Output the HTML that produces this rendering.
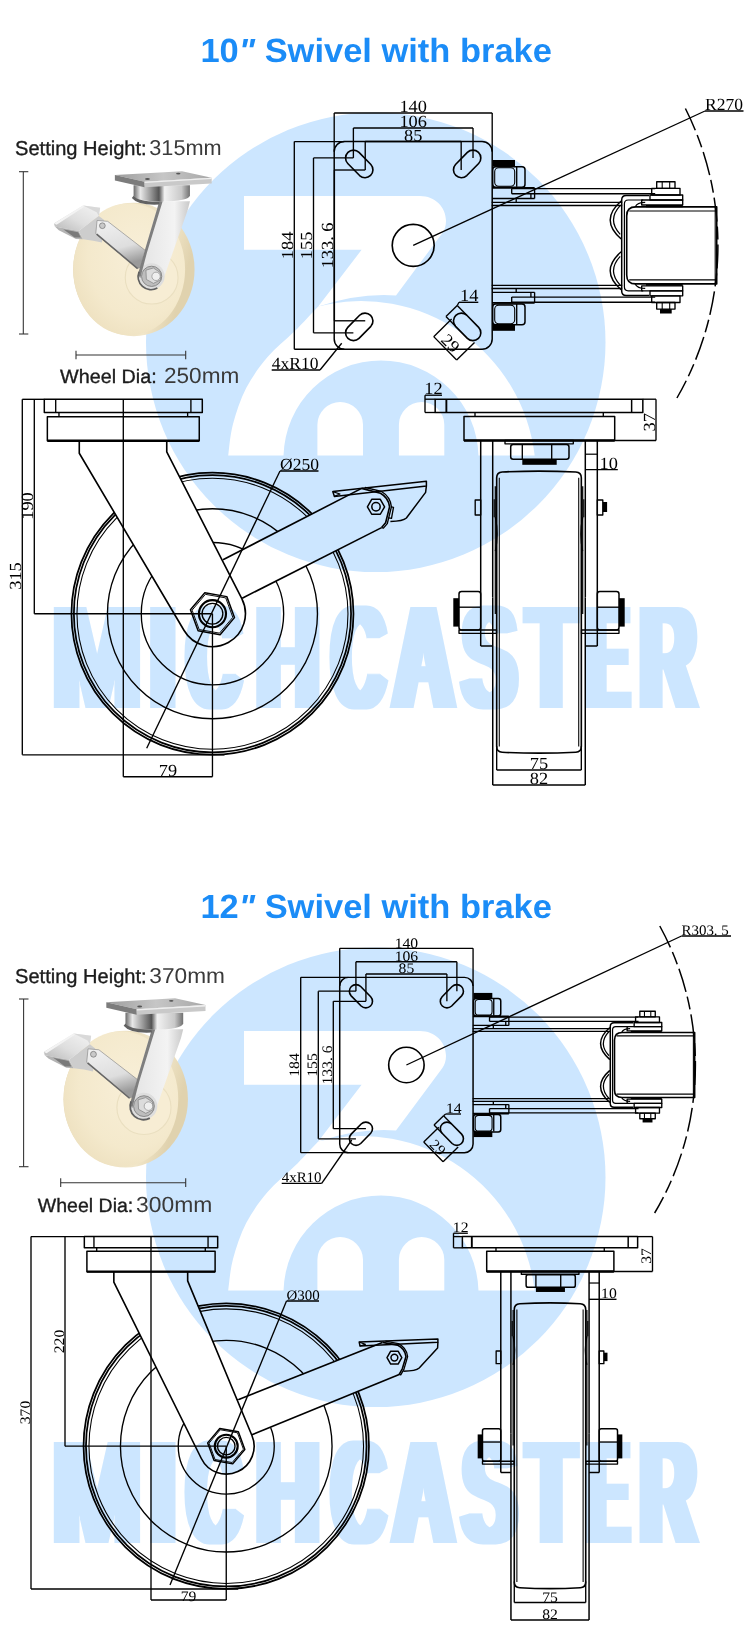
<!DOCTYPE html><html><head><meta charset="utf-8"><title>Swivel caster drawings</title>
<style>html,body{margin:0;padding:0;background:#fff}svg{display:block;will-change:transform;transform:translateZ(0)}</style></head><body>
<svg width="750" height="1640" viewBox="0 0 750 1640" text-rendering="geometricPrecision">
<defs><filter id="fat" x="-5%" y="-5%" width="110%" height="110%"><feMorphology operator="dilate" radius="6 0.3"/></filter></defs>
<rect width="750" height="1640" fill="#fff"/>
<circle cx="375.75" cy="342.3" r="229.75" fill="#cce6ff"/>
<path d="M244,196 H420 C435,196 446,207 446,221 C446,226 444.5,230 442.4,233 L396,295.4 Q358.9,292.7 318.2,306.4 L361.6,249.8 H244 Z" fill="#fff"/>
<path d="M228.2,455.6 C229,450.33 230,435.27 233,424 C236,412.73 240.4,399.2 246.2,388 C252,376.8 259.8,366.2 267.8,356.8 C275.8,347.4 285.8,340 294.2,331.6 C302.6,323.2 314.2,310.6 318.2,306.4 A174.9,174.9 0 0 1 534.7,455.6 H478.47 A97.5,97.5 0 0 0 283.53,455.6 Z" fill="#fff"/>
<path d="M317.4,455.6 V424.8 A22.80,22.80 0 0 1 363,424.8 V455.6 Z" fill="#fff"/>
<path d="M398.9,455.6 V424.7 A22.70,22.70 0 0 1 444.3,424.7 V455.6 Z" fill="#fff"/>
<text fill="#cce6ff" font-family="Liberation Sans, sans-serif" font-weight="bold" font-size="100" filter="url(#fat)" transform="translate(0 707.6) scale(1 1.4695)"><tspan x="52.79" textLength="88.42" lengthAdjust="spacingAndGlyphs">M</tspan><tspan x="150.01" textLength="25.66" lengthAdjust="spacingAndGlyphs">I</tspan><tspan x="187.42" textLength="52.56" lengthAdjust="spacingAndGlyphs">C</tspan><tspan x="256.38" textLength="62.76" lengthAdjust="spacingAndGlyphs">H</tspan><tspan x="332.55" textLength="51.9" lengthAdjust="spacingAndGlyphs">C</tspan><tspan x="393.52" textLength="59.95" lengthAdjust="spacingAndGlyphs">A</tspan><tspan x="462.68" textLength="53.34" lengthAdjust="spacingAndGlyphs">S</tspan><tspan x="527.85" textLength="46.98" lengthAdjust="spacingAndGlyphs">T</tspan><tspan x="587.99" textLength="39.95" lengthAdjust="spacingAndGlyphs">E</tspan><tspan x="640.6" textLength="55.02" lengthAdjust="spacingAndGlyphs">R</tspan></text>
<circle cx="375.75" cy="1177.3" r="229.75" fill="#cce6ff"/>
<path d="M244,1031 H420 C435,1031 446,1042 446,1056 C446,1061 444.5,1065 442.4,1068 L396,1130.4 Q358.9,1127.7 318.2,1141.4 L361.6,1084.8 H244 Z" fill="#fff"/>
<path d="M228.2,1290.6 C229,1285.33 230,1270.27 233,1259 C236,1247.73 240.4,1234.2 246.2,1223 C252,1211.8 259.8,1201.2 267.8,1191.8 C275.8,1182.4 285.8,1175 294.2,1166.6 C302.6,1158.2 314.2,1145.6 318.2,1141.4 A174.9,174.9 0 0 1 534.7,1290.6 H478.47 A97.5,97.5 0 0 0 283.53,1290.6 Z" fill="#fff"/>
<path d="M317.4,1290.6 V1259.8 A22.80,22.80 0 0 1 363,1259.8 V1290.6 Z" fill="#fff"/>
<path d="M398.9,1290.6 V1259.7 A22.70,22.70 0 0 1 444.3,1259.7 V1290.6 Z" fill="#fff"/>
<text fill="#cce6ff" font-family="Liberation Sans, sans-serif" font-weight="bold" font-size="100" filter="url(#fat)" transform="translate(0 1542.6) scale(1 1.4695)"><tspan x="52.79" textLength="88.42" lengthAdjust="spacingAndGlyphs">M</tspan><tspan x="150.01" textLength="25.66" lengthAdjust="spacingAndGlyphs">I</tspan><tspan x="187.42" textLength="52.56" lengthAdjust="spacingAndGlyphs">C</tspan><tspan x="256.38" textLength="62.76" lengthAdjust="spacingAndGlyphs">H</tspan><tspan x="332.55" textLength="51.9" lengthAdjust="spacingAndGlyphs">C</tspan><tspan x="393.52" textLength="59.95" lengthAdjust="spacingAndGlyphs">A</tspan><tspan x="462.68" textLength="53.34" lengthAdjust="spacingAndGlyphs">S</tspan><tspan x="527.85" textLength="46.98" lengthAdjust="spacingAndGlyphs">T</tspan><tspan x="587.99" textLength="39.95" lengthAdjust="spacingAndGlyphs">E</tspan><tspan x="640.6" textLength="55.02" lengthAdjust="spacingAndGlyphs">R</tspan></text>
<text x="200.4" y="61.6" font-family="Liberation Sans, sans-serif" font-size="33.5" font-weight="bold" fill="#1b8cf7" text-anchor="start" textLength="351.5" lengthAdjust="spacingAndGlyphs">10<tspan font-style="italic">&quot;</tspan> Swivel with brake</text>
<text x="200.4" y="917.7" font-family="Liberation Sans, sans-serif" font-size="33.5" font-weight="bold" fill="#1b8cf7" text-anchor="start" textLength="351.5" lengthAdjust="spacingAndGlyphs">12<tspan font-style="italic">&quot;</tspan> Swivel with brake</text>
<text x="15" y="155" font-family="Liberation Sans, sans-serif" font-size="20" font-weight="normal" fill="#1c1c1c" text-anchor="start" textLength="131.7" lengthAdjust="spacingAndGlyphs" stroke="#1c1c1c" stroke-width="0.35">Setting Height:</text>
<text x="149.3" y="155" font-family="Liberation Sans, sans-serif" font-size="21.6" font-weight="normal" fill="#3a3a3a" text-anchor="start" textLength="72.4" lengthAdjust="spacingAndGlyphs">315mm</text>
<text x="60" y="383.4" font-family="Liberation Sans, sans-serif" font-size="19.4" font-weight="normal" fill="#1c1c1c" text-anchor="start" textLength="96.7" lengthAdjust="spacingAndGlyphs" stroke="#1c1c1c" stroke-width="0.35">Wheel Dia:</text>
<text x="164" y="383.4" font-family="Liberation Sans, sans-serif" font-size="22" font-weight="normal" fill="#3a3a3a" text-anchor="start" textLength="75.3" lengthAdjust="spacingAndGlyphs">250mm</text>
<line x1="23.3" y1="171.7" x2="23.3" y2="334" stroke="#333" stroke-width="1.08" />
<line x1="19" y1="171.7" x2="28.3" y2="171.7" stroke="#333" stroke-width="1.08" />
<line x1="19" y1="334" x2="28.3" y2="334" stroke="#333" stroke-width="1.08" />
<line x1="76" y1="355" x2="185.7" y2="355" stroke="#333" stroke-width="1.08" />
<line x1="76" y1="350.7" x2="76" y2="359.3" stroke="#333" stroke-width="1.08" />
<line x1="185.7" y1="350.7" x2="185.7" y2="359.3" stroke="#333" stroke-width="1.08" />
<text x="15" y="982.7" font-family="Liberation Sans, sans-serif" font-size="20" font-weight="normal" fill="#1c1c1c" text-anchor="start" textLength="131.7" lengthAdjust="spacingAndGlyphs" stroke="#1c1c1c" stroke-width="0.35">Setting Height:</text>
<text x="149.3" y="982.7" font-family="Liberation Sans, sans-serif" font-size="21.6" font-weight="normal" fill="#3a3a3a" text-anchor="start" textLength="75.7" lengthAdjust="spacingAndGlyphs">370mm</text>
<text x="37.7" y="1211.7" font-family="Liberation Sans, sans-serif" font-size="19.4" font-weight="normal" fill="#1c1c1c" text-anchor="start" textLength="95.6" lengthAdjust="spacingAndGlyphs" stroke="#1c1c1c" stroke-width="0.35">Wheel Dia:</text>
<text x="136" y="1211.7" font-family="Liberation Sans, sans-serif" font-size="22" font-weight="normal" fill="#3a3a3a" text-anchor="start" textLength="76.3" lengthAdjust="spacingAndGlyphs">300mm</text>
<line x1="23.6" y1="999" x2="23.6" y2="1166.7" stroke="#333" stroke-width="1.08" />
<line x1="19" y1="999" x2="28.5" y2="999" stroke="#333" stroke-width="1.08" />
<line x1="19" y1="1166.7" x2="28.5" y2="1166.7" stroke="#333" stroke-width="1.08" />
<line x1="60.7" y1="1182.7" x2="185.7" y2="1182.7" stroke="#333" stroke-width="1.08" />
<line x1="60.7" y1="1178.3" x2="60.7" y2="1187" stroke="#333" stroke-width="1.08" />
<line x1="185.7" y1="1178.3" x2="185.7" y2="1187" stroke="#333" stroke-width="1.08" />
<defs>
<radialGradient id="gFace" cx="0.6" cy="0.4" r="0.78"><stop offset="0" stop-color="#f8efd8"/><stop offset="0.6" stop-color="#f4e9cc"/><stop offset="0.85" stop-color="#eee1c0"/><stop offset="1" stop-color="#dfd0aa"/></radialGradient>
<linearGradient id="gTread" x1="0" y1="0" x2="1" y2="0.3"><stop offset="0" stop-color="#e4d6b2"/><stop offset="0.8" stop-color="#f1e6c9"/><stop offset="1" stop-color="#e0d2ae"/></linearGradient>
<linearGradient id="gCyl" x1="0" y1="0" x2="1" y2="0"><stop offset="0" stop-color="#6a6a6a"/><stop offset="0.12" stop-color="#e8e8e8"/><stop offset="0.3" stop-color="#9a9a9a"/><stop offset="0.45" stop-color="#555"/><stop offset="0.55" stop-color="#f2f2f2"/><stop offset="0.85" stop-color="#c9c9c9"/><stop offset="1" stop-color="#707070"/></linearGradient>
<linearGradient id="gLeg" x1="0" y1="0" x2="1" y2="0"><stop offset="0" stop-color="#9a9a9a"/><stop offset="0.12" stop-color="#e6e6e6"/><stop offset="0.7" stop-color="#f3f3f3"/><stop offset="1" stop-color="#c9c9c9"/></linearGradient>
<linearGradient id="gArm" x1="0" y1="0" x2="0.3" y2="1"><stop offset="0" stop-color="#f2f2f2"/><stop offset="0.65" stop-color="#dedede"/><stop offset="1" stop-color="#9a9a9a"/></linearGradient>
<linearGradient id="gPlateTop" x1="0" y1="0" x2="1" y2="0"><stop offset="0" stop-color="#9c9c9c"/><stop offset="0.5" stop-color="#c6c6c6"/><stop offset="1" stop-color="#a8a8a8"/></linearGradient>
<linearGradient id="gPedal" x1="0" y1="1" x2="1" y2="0"><stop offset="0" stop-color="#b8b8b8"/><stop offset="0.45" stop-color="#dedede"/><stop offset="1" stop-color="#f4f4f4"/></linearGradient>
</defs>
<g transform="translate(50 165) scale(0.22002)" stroke="none">
<ellipse cx="381" cy="475" rx="276" ry="303" fill="url(#gTread)"/>
<ellipse cx="360" cy="474" rx="254" ry="300" fill="url(#gFace)"/>
<circle cx="462" cy="512" r="120" fill="#f7edd4" stroke="#eadfc0" stroke-width="5"/>
<polygon points="18,266 150,184 228,194 222,232 130,300 22,280" fill="url(#gPedal)"/>
<polygon points="22,280 130,300 150,338 118,336 40,296" fill="#b4b4b4"/>
<polygon points="130,300 222,232 246,250 236,352 196,344 150,338" fill="#cdcdcd"/>
<polygon points="150,184 228,194 222,232 212,215" fill="#d9d9d9"/>
<polygon points="18,266 150,184 156,190 30,272" fill="#f3f3f3"/>
<polygon points="60,292 128,306 140,330 112,330" fill="#7a7a7a"/>
<polygon points="214,252 262,256 446,398 420,462 398,470 208,312" fill="url(#gArm)" stroke="#8a8a8a" stroke-width="3"/>
<line x1="212" y1="314" x2="398" y2="471" stroke="#666" stroke-width="7"/>
<circle cx="238" cy="276" r="13" fill="#c9c9c9" stroke="#6e6e6e" stroke-width="3"/>
<polygon points="497,165 636,165 626,205 522,500 470,565 402,505 428,400" fill="url(#gLeg)"/>
<circle cx="462" cy="506" r="59" fill="#dedede"/>
<polygon points="497,165 512,165 440,400 410,515 400,495 428,398" fill="#7e7e7e"/>
<path d="M405,485 A59,59 0 0 0 488,559" fill="none" stroke="#606060" stroke-width="8"/>
<path d="M380,92 L380,138 Q384,166 506,166 Q632,166 636,138 L636,92 Z" fill="url(#gCyl)"/>
<path d="M372,150 Q400,185 497,180 L497,166 Q400,168 380,140 Z" fill="#626262"/>
<polygon points="295,45 600,28 735,58 430,76" fill="url(#gPlateTop)"/>
<polygon points="295,45 430,76 430,101 295,70" fill="#7c7c7c"/>
<polygon points="430,76 735,58 735,84 430,101" fill="#c9c9c9"/>
<polygon points="430,76 735,58 735,64 430,82" fill="#efefef"/>
<ellipse cx="443" cy="64" rx="11" ry="4.5" fill="#555"/><ellipse cx="583" cy="39" rx="10" ry="4" fill="#555"/>
<circle cx="462" cy="506" r="46" fill="#bdbdbd" stroke="#808080" stroke-width="4"/>
<polygon points="436,478 470,468 500,488 502,522 470,538 438,520" fill="#dcdcdc" stroke="#7c7c7c" stroke-width="3"/>
<circle cx="482" cy="506" r="19" fill="#efefef" stroke="#8a8a8a" stroke-width="3"/>
</g>
<g transform="translate(39.77 992.02) scale(0.22552)" stroke="none">
<ellipse cx="381" cy="475" rx="276" ry="303" fill="url(#gTread)"/>
<ellipse cx="360" cy="474" rx="254" ry="300" fill="url(#gFace)"/>
<circle cx="462" cy="512" r="120" fill="#f7edd4" stroke="#eadfc0" stroke-width="5"/>
<polygon points="18,266 150,184 228,194 222,232 130,300 22,280" fill="url(#gPedal)"/>
<polygon points="22,280 130,300 150,338 118,336 40,296" fill="#b4b4b4"/>
<polygon points="130,300 222,232 246,250 236,352 196,344 150,338" fill="#cdcdcd"/>
<polygon points="150,184 228,194 222,232 212,215" fill="#d9d9d9"/>
<polygon points="18,266 150,184 156,190 30,272" fill="#f3f3f3"/>
<polygon points="60,292 128,306 140,330 112,330" fill="#7a7a7a"/>
<polygon points="214,252 262,256 446,398 420,462 398,470 208,312" fill="url(#gArm)" stroke="#8a8a8a" stroke-width="3"/>
<line x1="212" y1="314" x2="398" y2="471" stroke="#666" stroke-width="7"/>
<circle cx="238" cy="276" r="13" fill="#c9c9c9" stroke="#6e6e6e" stroke-width="3"/>
<polygon points="497,165 636,165 626,205 522,500 470,565 402,505 428,400" fill="url(#gLeg)"/>
<circle cx="462" cy="506" r="59" fill="#dedede"/>
<polygon points="497,165 512,165 440,400 410,515 400,495 428,398" fill="#7e7e7e"/>
<path d="M405,485 A59,59 0 0 0 488,559" fill="none" stroke="#606060" stroke-width="8"/>
<path d="M380,92 L380,138 Q384,166 506,166 Q632,166 636,138 L636,92 Z" fill="url(#gCyl)"/>
<path d="M372,150 Q400,185 497,180 L497,166 Q400,168 380,140 Z" fill="#626262"/>
<polygon points="295,45 600,28 735,58 430,76" fill="url(#gPlateTop)"/>
<polygon points="295,45 430,76 430,101 295,70" fill="#7c7c7c"/>
<polygon points="430,76 735,58 735,84 430,101" fill="#c9c9c9"/>
<polygon points="430,76 735,58 735,64 430,82" fill="#efefef"/>
<ellipse cx="443" cy="64" rx="11" ry="4.5" fill="#555"/><ellipse cx="583" cy="39" rx="10" ry="4" fill="#555"/>
<circle cx="462" cy="506" r="46" fill="#bdbdbd" stroke="#808080" stroke-width="4"/>
<polygon points="436,478 470,468 500,488 502,522 470,538 438,520" fill="#dcdcdc" stroke="#7c7c7c" stroke-width="3"/>
<circle cx="482" cy="506" r="19" fill="#efefef" stroke="#8a8a8a" stroke-width="3"/>
</g>
<g stroke-linecap="butt" stroke-linejoin="round">
<path d="M344.36,141.57 H482.04 A10.16,10.16 0 0 1 492.2,151.73 V339.07 A10.16,10.16 0 0 1 482.04,349.23 H344.36 A10.16,10.16 0 0 1 334.2,339.07 V151.73 A10.16,10.16 0 0 1 344.36,141.57 Z" stroke="#000" stroke-width="1.49" fill="none" />
<path d="M347.75,163.47 L359.6,175.54 A7.9,7.9 0 0 0 370.87,164.48 L359.02,152.4 A7.9,7.9 0 0 0 347.75,163.47 Z" stroke="#000" stroke-width="1.62" fill="none" />
<path d="M359.02,338.4 L370.87,326.32 A7.9,7.9 0 0 0 359.6,315.26 L347.75,327.33 A7.9,7.9 0 0 0 359.02,338.4 Z" stroke="#000" stroke-width="1.62" fill="none" />
<path d="M467.38,152.4 L455.53,164.48 A7.9,7.9 0 0 0 466.8,175.54 L478.65,163.47 A7.9,7.9 0 0 0 467.38,152.4 Z" stroke="#000" stroke-width="1.62" fill="none" />
<path d="M478.65,327.33 L466.8,315.26 A7.9,7.9 0 0 0 455.53,326.32 L467.38,338.4 A7.9,7.9 0 0 0 478.65,327.33 Z" stroke="#000" stroke-width="1.62" fill="none" />
<circle cx="413.2" cy="245.4" r="20.99" stroke="#000" stroke-width="1.62" fill="none"/>
<line x1="334.2" y1="113" x2="492.2" y2="113" stroke="#000" stroke-width="1.35" />
<line x1="334.2" y1="113" x2="334.2" y2="151.73" stroke="#000" stroke-width="1.35" />
<line x1="492.2" y1="113" x2="492.2" y2="151.73" stroke="#000" stroke-width="1.35" />
<line x1="353.38" y1="128" x2="473.02" y2="128" stroke="#000" stroke-width="1.35" />
<line x1="353.38" y1="128" x2="353.38" y2="157.93" stroke="#000" stroke-width="1.35" />
<line x1="473.02" y1="128" x2="473.02" y2="157.93" stroke="#000" stroke-width="1.35" />
<line x1="365.23" y1="141.5" x2="461.17" y2="141.5" stroke="#000" stroke-width="1.35" />
<line x1="365.23" y1="141.5" x2="365.23" y2="170.01" stroke="#000" stroke-width="1.35" />
<line x1="461.17" y1="141.5" x2="461.17" y2="170.01" stroke="#000" stroke-width="1.35" />
<text font-family="Liberation Serif, serif" font-size="17" text-anchor="middle" fill="#000" transform="translate(413.2 112.2) scale(1.08 1)" >140</text>
<text font-family="Liberation Serif, serif" font-size="17" text-anchor="middle" fill="#000" transform="translate(413.2 127.2) scale(1.08 1)" >106</text>
<text font-family="Liberation Serif, serif" font-size="17" text-anchor="middle" fill="#000" transform="translate(413.2 140.7) scale(1.08 1)" >85</text>
<line x1="294.3" y1="141.57" x2="294.3" y2="349.23" stroke="#000" stroke-width="1.35" />
<line x1="294.3" y1="141.57" x2="344.36" y2="141.57" stroke="#000" stroke-width="1.35" />
<line x1="294.3" y1="349.23" x2="344.36" y2="349.23" stroke="#000" stroke-width="1.35" />
<line x1="313.5" y1="157.93" x2="313.5" y2="332.87" stroke="#000" stroke-width="1.35" />
<line x1="313.5" y1="157.93" x2="353.38" y2="157.93" stroke="#000" stroke-width="1.35" />
<line x1="313.5" y1="332.87" x2="353.38" y2="332.87" stroke="#000" stroke-width="1.35" />
<line x1="334.4" y1="170.01" x2="334.4" y2="320.79" stroke="#000" stroke-width="1.35" />
<line x1="334.4" y1="170.01" x2="365.23" y2="170.01" stroke="#000" stroke-width="1.35" />
<line x1="334.4" y1="320.79" x2="365.23" y2="320.79" stroke="#000" stroke-width="1.35" />
<text font-family="Liberation Serif, serif" font-size="17" text-anchor="middle" fill="#000" transform="translate(292.8 245.4) rotate(-90) scale(1.08 1)" >184</text>
<text font-family="Liberation Serif, serif" font-size="17" text-anchor="middle" fill="#000" transform="translate(312 245.4) rotate(-90) scale(1.08 1)" >155</text>
<text font-family="Liberation Serif, serif" font-size="17" text-anchor="middle" fill="#000" transform="translate(332.9 245.4) rotate(-90) scale(1.08 1)" >133. 6</text>
<line x1="271.7" y1="370" x2="320" y2="370" stroke="#000" stroke-width="1.35" />
<line x1="320" y1="370" x2="341.7" y2="343.3" stroke="#000" stroke-width="1.35" />
<text font-family="Liberation Serif, serif" font-size="17" text-anchor="start" fill="#000" transform="translate(271.7 369) scale(1.03 1)" >4xR10</text>
<line x1="466.8" y1="315.26" x2="457.24" y2="305.51" stroke="#000" stroke-width="1.35" />
<line x1="455.53" y1="326.32" x2="445.96" y2="316.58" stroke="#000" stroke-width="1.35" />
<line x1="445.96" y1="316.58" x2="457.24" y2="305.51" stroke="#000" stroke-width="1.35" />
<line x1="457.24" y1="305.51" x2="459" y2="302.3" stroke="#000" stroke-width="1.35" />
<line x1="459" y1="302.3" x2="478.3" y2="302.3" stroke="#000" stroke-width="1.35" />
<text font-family="Liberation Serif, serif" font-size="17" text-anchor="middle" fill="#000" transform="translate(469.15 301.3) scale(1.08 1)" >14</text>
<line x1="474.52" y1="342.46" x2="456.64" y2="360.01" stroke="#000" stroke-width="1.35" />
<line x1="451.6" y1="319.1" x2="433.72" y2="336.65" stroke="#000" stroke-width="1.35" />
<line x1="456.64" y1="360.01" x2="433.72" y2="336.65" stroke="#000" stroke-width="1.35" />
<text font-family="Liberation Serif, serif" font-size="17" text-anchor="middle" fill="#000" transform="translate(446.39 347.14) rotate(45) scale(1.08 1)" >29</text>
<rect x="492.7" y="160" width="22.3" height="6.7" fill="#000"/>
<rect x="492.7" y="166.7" width="32.3" height="20.6" rx="3" stroke="#000" stroke-width="1.49" fill="none"/>
<line x1="516.7" y1="186.7" x2="516.7" y2="166.7" stroke="#000" stroke-width="1.35" />
<rect x="494.7" y="167.7" width="20" height="18.6" rx="4" stroke="#000" stroke-width="1.08" fill="none"/>
<line x1="511.7" y1="188.6" x2="655.2" y2="188.6" stroke="#000" stroke-width="1.35" />
<line x1="511.7" y1="193.7" x2="655.2" y2="193.7" stroke="#000" stroke-width="1.35" />
<line x1="511.7" y1="188.6" x2="511.7" y2="193.7" stroke="#000" stroke-width="1.35" />
<line x1="492" y1="187.9" x2="534.6" y2="187.9" stroke="#000" stroke-width="1.76" />
<line x1="492" y1="198.5" x2="534.6" y2="198.5" stroke="#000" stroke-width="1.35" />
<line x1="534.6" y1="187.9" x2="534.6" y2="198.5" stroke="#000" stroke-width="1.35" />
<line x1="530.9" y1="193.7" x2="530.9" y2="198.5" stroke="#000" stroke-width="1.35" />
<line x1="491.7" y1="202.3" x2="622.2" y2="202.3" stroke="#000" stroke-width="1.35" />
<line x1="491.7" y1="205.5" x2="622.2" y2="205.5" stroke="#000" stroke-width="1.35" />
<line x1="516.2" y1="198.5" x2="516.2" y2="202.3" stroke="#000" stroke-width="1.35" />
<rect x="641.7" y="200" width="41" height="5" rx="0" stroke="#000" stroke-width="1.35" fill="none"/>
<rect x="650" y="195" width="32.7" height="5" rx="0" stroke="#000" stroke-width="1.35" fill="none"/>
<rect x="651.7" y="188.3" width="28.3" height="6.7" rx="0" stroke="#000" stroke-width="1.35" fill="none"/>
<rect x="656.7" y="181.7" width="18.3" height="6.6" rx="0" stroke="#000" stroke-width="1.35" fill="none"/>
<line x1="662.2" y1="181.7" x2="662.2" y2="188.3" stroke="#000" stroke-width="1.08" />
<line x1="669.7" y1="181.7" x2="669.7" y2="188.3" stroke="#000" stroke-width="1.08" />
<path d="M621.2,201 Q599.2,220 621.2,239" stroke="#000" stroke-width="1.49" fill="none" />
<path d="M620.2,205.7 Q606.8,220 620.2,234.4" stroke="#000" stroke-width="1.22" fill="none" />
<line x1="629.2" y1="211" x2="716.7" y2="211" stroke="#000" stroke-width="1.22" />
<line x1="646" y1="206.1" x2="682.7" y2="206.1" stroke="#000" stroke-width="2.16" />
<rect x="492.7" y="324.1" width="22.3" height="6.7" fill="#000"/>
<rect x="492.7" y="304.1" width="32.3" height="20.6" rx="3" stroke="#000" stroke-width="1.49" fill="none"/>
<line x1="516.7" y1="304.1" x2="516.7" y2="324.1" stroke="#000" stroke-width="1.35" />
<rect x="494.7" y="305.1" width="20" height="18.6" rx="4" stroke="#000" stroke-width="1.08" fill="none"/>
<line x1="511.7" y1="302.2" x2="655.2" y2="302.2" stroke="#000" stroke-width="1.35" />
<line x1="511.7" y1="297.1" x2="655.2" y2="297.1" stroke="#000" stroke-width="1.35" />
<line x1="511.7" y1="302.2" x2="511.7" y2="297.1" stroke="#000" stroke-width="1.35" />
<line x1="492" y1="302.9" x2="534.6" y2="302.9" stroke="#000" stroke-width="1.76" />
<line x1="492" y1="292.3" x2="534.6" y2="292.3" stroke="#000" stroke-width="1.35" />
<line x1="534.6" y1="302.9" x2="534.6" y2="292.3" stroke="#000" stroke-width="1.35" />
<line x1="530.9" y1="297.1" x2="530.9" y2="292.3" stroke="#000" stroke-width="1.35" />
<line x1="491.7" y1="288.5" x2="622.2" y2="288.5" stroke="#000" stroke-width="1.35" />
<line x1="491.7" y1="285.3" x2="622.2" y2="285.3" stroke="#000" stroke-width="1.35" />
<line x1="516.2" y1="292.3" x2="516.2" y2="288.5" stroke="#000" stroke-width="1.35" />
<rect x="641.7" y="285.8" width="41" height="5" rx="0" stroke="#000" stroke-width="1.35" fill="none"/>
<rect x="650" y="290.8" width="32.7" height="5" rx="0" stroke="#000" stroke-width="1.35" fill="none"/>
<rect x="651.7" y="295.8" width="28.3" height="6.7" rx="0" stroke="#000" stroke-width="1.35" fill="none"/>
<rect x="656.7" y="302.5" width="18.3" height="6.6" rx="0" stroke="#000" stroke-width="1.35" fill="none"/>
<line x1="662.2" y1="309.1" x2="662.2" y2="302.5" stroke="#000" stroke-width="1.08" />
<line x1="669.7" y1="309.1" x2="669.7" y2="302.5" stroke="#000" stroke-width="1.08" />
<rect x="660" y="309.1" width="11.7" height="4.4" fill="#000"/>
<path d="M621.2,289.8 Q599.2,270.8 621.2,251.8" stroke="#000" stroke-width="1.49" fill="none" />
<path d="M620.2,285.1 Q606.8,270.8 620.2,256.4" stroke="#000" stroke-width="1.22" fill="none" />
<line x1="629.2" y1="279.8" x2="716.7" y2="279.8" stroke="#000" stroke-width="1.22" />
<line x1="646" y1="284.7" x2="682.7" y2="284.7" stroke="#000" stroke-width="2.16" />
<path d="M649.2,195.4 H626.2 Q621.7,195.4 621.7,199.9 V290.9 Q621.7,295.4 626.2,295.4 H649.2" stroke="#000" stroke-width="1.49" fill="none" />
<path d="M643.2,200 H628.2 Q624.4,200 624.4,204 V286.8 Q624.4,290.8 628.2,290.8 H643.2" stroke="#000" stroke-width="1.22" fill="none" />
<path d="M716.7,206.9 H635.7 Q626.7,206.9 626.7,215.9 V274.9 Q626.7,283.9 635.7,283.9 H716.7 Z" stroke="#000" stroke-width="1.62" fill="none" />
<line x1="715.2" y1="206.9" x2="715.2" y2="283.9" stroke="#000" stroke-width="1.08" />
<path d="M645.2,202.4 Q637.2,202.4 635.2,206.9" stroke="#000" stroke-width="1.22" fill="none" />
<path d="M645.2,288.4 Q637.2,288.4 635.2,283.9" stroke="#000" stroke-width="1.22" fill="none" />
<line x1="705" y1="111" x2="743.5" y2="111" stroke="#000" stroke-width="1.35" />
<line x1="705" y1="111" x2="413.2" y2="245.4" stroke="#000" stroke-width="1.35" />
<text font-family="Liberation Serif, serif" font-size="17" text-anchor="start" fill="#000" transform="translate(705 110) scale(1.03 1)" >R270</text>
<path d="M685.41,108.5 A304.7,304.7 0 0 1 676.93,398" stroke="#000" stroke-width="1.49" fill="none" stroke-dasharray="24 5 13 5"/>
<rect x="44.3" y="399.3" width="158" height="13.2" rx="0" stroke="#000" stroke-width="1.49" fill="none"/>
<line x1="55.7" y1="399.3" x2="55.7" y2="412.5" stroke="#000" stroke-width="1.35" />
<line x1="190.9" y1="399.3" x2="190.9" y2="412.5" stroke="#000" stroke-width="1.35" />
<line x1="58.97" y1="412.5" x2="58.97" y2="416.68" stroke="#000" stroke-width="1.35" />
<line x1="187.63" y1="412.5" x2="187.63" y2="416.68" stroke="#000" stroke-width="1.35" />
<rect x="47.35" y="416.68" width="151.91" height="24.15" rx="0" stroke="#000" stroke-width="1.49" fill="none"/>
<line x1="47.35" y1="440.83" x2="199.25" y2="440.83" stroke="#000" stroke-width="2.43" />
<mask id="m399" maskUnits="userSpaceOnUse" x="0" y="0" width="750" height="1640"><rect width="750" height="1640" fill="#fff"/><path d="M79.28,440.83 L79.28,453.25 L184.09,630.51 A32.96,32.96 0 0 0 241.81,598.74 L166.75,451.78 L166.75,440.83 Z" fill="#000"/><path d="M215,563.7 L361.6,488.4 L381.6,527.6 L234.2,602.2 Z" fill="#000"/></mask>
<g mask="url(#m399)">
<circle cx="212.46" cy="613.73" r="141" stroke="#000" stroke-width="1.76" fill="none"/>
<circle cx="212.46" cy="613.73" r="138.6" stroke="#000" stroke-width="1.76" fill="none"/>
<circle cx="212.46" cy="613.73" r="135.5" stroke="#000" stroke-width="1.08" fill="none"/>
<circle cx="212.46" cy="613.73" r="105" stroke="#000" stroke-width="1.35" fill="none"/>
<circle cx="212.46" cy="613.73" r="71.2" stroke="#000" stroke-width="1.35" fill="none"/>
</g>
<path d="M79.28,440.83 L79.28,453.25 L184.09,630.51 A32.96,32.96 0 0 0 241.81,598.74 L166.75,451.78 L166.75,440.83" stroke="#000" stroke-width="1.62" fill="none" />
<path d="M234.47,617.61 L220.1,634.73 L198.1,630.85 L190.45,609.85 L204.82,592.74 L226.82,596.62 Z" stroke="#000" stroke-width="1.49" fill="none" />
<path d="M232.8,617.32 L219.52,633.14 L199.18,629.56 L192.12,610.15 L205.4,594.33 L225.74,597.91 Z" stroke="#000" stroke-width="0.94" fill="none" />
<circle cx="212.46" cy="613.73" r="13.54" stroke="#000" stroke-width="2.16" fill="none"/>
<circle cx="212.46" cy="613.73" r="10.38" stroke="#000" stroke-width="1.35" fill="none"/>
<line x1="22.3" y1="399.3" x2="44.3" y2="399.3" stroke="#000" stroke-width="1.35" />
<line x1="22.3" y1="399.3" x2="22.3" y2="754.81" stroke="#000" stroke-width="1.35" />
<line x1="22.3" y1="754.81" x2="224.46" y2="754.81" stroke="#000" stroke-width="1.35" />
<line x1="34.3" y1="399.3" x2="34.3" y2="613.73" stroke="#000" stroke-width="1.35" />
<line x1="34.3" y1="613.73" x2="212.46" y2="613.73" stroke="#000" stroke-width="1.35" />
<line x1="123.3" y1="399.3" x2="123.3" y2="776.7" stroke="#000" stroke-width="1.35" />
<line x1="212.46" y1="613.73" x2="212.46" y2="776.7" stroke="#000" stroke-width="1.35" />
<line x1="123.3" y1="776.7" x2="212.46" y2="776.7" stroke="#000" stroke-width="1.35" />
<text font-family="Liberation Serif, serif" font-size="17" text-anchor="middle" fill="#000" transform="translate(167.88 775.9) scale(1.08 1)" >79</text>
<text font-family="Liberation Serif, serif" font-size="17" text-anchor="middle" fill="#000" transform="translate(20.8 576) rotate(-90) scale(1.08 1)" >315</text>
<text font-family="Liberation Serif, serif" font-size="17" text-anchor="middle" fill="#000" transform="translate(32.8 506) rotate(-90) scale(1.08 1)" >190</text>
<line x1="280" y1="471" x2="318.5" y2="471" stroke="#000" stroke-width="1.35" />
<line x1="280" y1="471" x2="146.7" y2="748.3" stroke="#000" stroke-width="1.35" />
<text font-family="Liberation Serif, serif" font-size="17" text-anchor="start" fill="#000" transform="translate(280 470) scale(1.03 1)" >&#216;250</text>
<line x1="223" y1="559.7" x2="361.6" y2="488.4" stroke="#000" stroke-width="1.62" />
<line x1="242.2" y1="598.2" x2="381.6" y2="527.6" stroke="#000" stroke-width="1.62" />
<path d="M384.6,506.8 L380.3,514.25 L371.7,514.25 L367.4,506.8 L371.7,499.35 L380.3,499.35 Z" stroke="#000" stroke-width="1.49" fill="none" />
<circle cx="376" cy="506.8" r="4.2" stroke="#000" stroke-width="1.49" fill="none"/>
<path d="M361.6,488.4 L380.5,493.3 Q388.5,497.8 389.6,506.8 L385.6,522.8 L381.6,527.6" stroke="#000" stroke-width="1.62" fill="none" />
<path d="M365,487.3 L381.5,491.5 Q390.5,496.8 391.4,506.8 L387.3,523.6 L383.4,528.1 L381.6,527.6" stroke="#000" stroke-width="1.35" fill="none" />
<path d="M391.4,506.8 L393.5,507.3 L391.5,518.3 L388.8,517.8" stroke="#000" stroke-width="1.35" fill="none" />
<path d="M332.8,491.6 L426.4,481.2 L426.4,486 L334.4,496.4 Z" stroke="#000" stroke-width="1.49" fill="none" />
<path d="M332.8,491.6 L340,494 L334.4,496.4" stroke="#000" stroke-width="1.22" fill="none" />
<path d="M426.4,486 L425.6,492.4 L406.4,518 Q403,521.3 390.4,521.4" stroke="#000" stroke-width="1.49" fill="none" />
<rect x="435.17" y="399.2" width="207.66" height="13.3" rx="0" stroke="#000" stroke-width="1.49" fill="none"/>
<line x1="446.37" y1="399.2" x2="446.37" y2="412.5" stroke="#000" stroke-width="1.89" />
<line x1="631.63" y1="399.2" x2="631.63" y2="412.5" stroke="#000" stroke-width="1.49" />
<line x1="425" y1="395.2" x2="425" y2="412.5" stroke="#000" stroke-width="1.35" />
<line x1="425" y1="399.2" x2="435.17" y2="399.2" stroke="#000" stroke-width="1.35" />
<line x1="425" y1="412.5" x2="435.17" y2="412.5" stroke="#000" stroke-width="1.35" />
<line x1="425" y1="395.2" x2="442" y2="395.2" stroke="#000" stroke-width="1.35" />
<text font-family="Liberation Serif, serif" font-size="17" text-anchor="middle" fill="#000" transform="translate(433.5 394.2) scale(1.08 1)" >12</text>
<line x1="642.83" y1="399.2" x2="656" y2="399.2" stroke="#000" stroke-width="1.35" />
<line x1="656" y1="399.2" x2="656" y2="440.5" stroke="#000" stroke-width="1.35" />
<line x1="614.7" y1="440.5" x2="656" y2="440.5" stroke="#000" stroke-width="1.35" />
<text font-family="Liberation Serif, serif" font-size="17" text-anchor="middle" fill="#000" transform="translate(654.5 422.2) rotate(-90) scale(1.08 1)" >37</text>
<line x1="475" y1="412.5" x2="475" y2="416.5" stroke="#000" stroke-width="1.35" />
<line x1="603.3" y1="412.5" x2="603.3" y2="416.5" stroke="#000" stroke-width="1.35" />
<rect x="464" y="416.5" width="150.7" height="24" rx="0" stroke="#000" stroke-width="1.49" fill="none"/>
<line x1="464" y1="440.5" x2="614.7" y2="440.5" stroke="#000" stroke-width="2.43" />
<rect x="505" y="440.5" width="68.3" height="3.3" rx="0" stroke="#000" stroke-width="1.35" fill="none"/>
<rect x="510.7" y="444.5" width="58.3" height="14.7" rx="2.5" stroke="#000" stroke-width="1.49" fill="none"/>
<line x1="522.3" y1="444.5" x2="522.3" y2="459.2" stroke="#000" stroke-width="1.35" />
<line x1="551.7" y1="444.5" x2="551.7" y2="459.2" stroke="#000" stroke-width="1.35" />
<rect x="522.3" y="459.2" width="34.4" height="5.6" fill="#000"/>
<line x1="480.7" y1="440.5" x2="480.7" y2="646" stroke="#000" stroke-width="1.49" />
<line x1="492.7" y1="440.5" x2="492.7" y2="597.5" stroke="#000" stroke-width="1.49" />
<line x1="480.7" y1="646" x2="492.7" y2="646" stroke="#000" stroke-width="1.49" />
<line x1="495.3" y1="486.2" x2="495.3" y2="614" stroke="#000" stroke-width="1.22" />
<line x1="494.2" y1="499.2" x2="494.2" y2="517.2" stroke="#000" stroke-width="1.22" />
<path d="M495.3,517.2 Q499,534.2 495.3,551.2" stroke="#000" stroke-width="1.22" fill="none" />
<rect x="475.2" y="500" width="5.5" height="15" rx="0" stroke="#000" stroke-width="1.35" fill="none"/>
<rect x="459" y="591.5" width="21.7" height="38.5" rx="2.5" stroke="#000" stroke-width="1.49" fill="none"/>
<line x1="480.7" y1="607.2" x2="459" y2="607.2" stroke="#000" stroke-width="1.35" />
<rect x="453.3" y="598.2" width="5.7" height="28.4" fill="#000"/>
<rect x="459" y="630" width="37.5" height="3.3" rx="0" stroke="#000" stroke-width="1.35" fill="none"/>
<line x1="492.73" y1="597.5" x2="492.73" y2="785" stroke="#000" stroke-width="1.49" />
<line x1="496.68" y1="746" x2="496.68" y2="770" stroke="#000" stroke-width="1.35" />
<line x1="597.3" y1="440.5" x2="597.3" y2="646" stroke="#000" stroke-width="1.49" />
<line x1="585.3" y1="440.5" x2="585.3" y2="597.5" stroke="#000" stroke-width="1.49" />
<line x1="597.3" y1="646" x2="585.3" y2="646" stroke="#000" stroke-width="1.49" />
<line x1="582.7" y1="486.2" x2="582.7" y2="614" stroke="#000" stroke-width="1.22" />
<line x1="583.8" y1="499.2" x2="583.8" y2="517.2" stroke="#000" stroke-width="1.22" />
<path d="M582.7,517.2 Q579,534.2 582.7,551.2" stroke="#000" stroke-width="1.22" fill="none" />
<rect x="597.3" y="500" width="5.5" height="15" rx="0" stroke="#000" stroke-width="1.35" fill="none"/>
<rect x="602.8" y="502" width="4.3" height="10" fill="#000"/>
<rect x="597.3" y="591.5" width="21.7" height="38.5" rx="2.5" stroke="#000" stroke-width="1.49" fill="none"/>
<line x1="597.3" y1="607.2" x2="619" y2="607.2" stroke="#000" stroke-width="1.35" />
<rect x="619" y="598.2" width="5.7" height="28.4" fill="#000"/>
<rect x="581.5" y="630" width="37.5" height="3.3" rx="0" stroke="#000" stroke-width="1.35" fill="none"/>
<line x1="585.27" y1="597.5" x2="585.27" y2="785" stroke="#000" stroke-width="1.49" />
<line x1="581.32" y1="746" x2="581.32" y2="770" stroke="#000" stroke-width="1.35" />
<path d="M496.68,746.5 V477.8 Q496.68,472.3 502.18,472 Q539,470.3 575.82,472 Q581.32,472.3 581.32,477.8 V746.5 Q581.32,752 575.82,752.3 Q539,754 502.18,752.3 Q496.68,752 496.68,746.5 Z" stroke="#000" stroke-width="1.62" fill="none" />
<line x1="499.28" y1="477.8" x2="499.28" y2="746.5" stroke="#000" stroke-width="1.08" />
<line x1="578.72" y1="477.8" x2="578.72" y2="746.5" stroke="#000" stroke-width="1.08" />
<line x1="496.68" y1="770" x2="581.32" y2="770" stroke="#000" stroke-width="1.35" />
<line x1="492.73" y1="785" x2="585.27" y2="785" stroke="#000" stroke-width="1.35" />
<text font-family="Liberation Serif, serif" font-size="17" text-anchor="middle" fill="#000" transform="translate(539 769.2) scale(1.08 1)" >75</text>
<text font-family="Liberation Serif, serif" font-size="17" text-anchor="middle" fill="#000" transform="translate(539 784.2) scale(1.08 1)" >82</text>
<line x1="585.3" y1="469.6" x2="617.8" y2="469.6" stroke="#000" stroke-width="1.35" />
<line x1="585.3" y1="454.2" x2="597.3" y2="454.2" stroke="#000" stroke-width="1.22" />
<text font-family="Liberation Serif, serif" font-size="17" text-anchor="middle" fill="#000" transform="translate(608.8 468.6) scale(1.08 1)" >10</text>
<path d="M348.3,977.37 H464.5 A8.57,8.57 0 0 1 473.07,985.94 V1144.06 A8.57,8.57 0 0 1 464.5,1152.63 H348.3 A8.57,8.57 0 0 1 339.72,1144.06 V985.94 A8.57,8.57 0 0 1 348.3,977.37 Z" stroke="#000" stroke-width="1.49" fill="none" />
<path d="M351.16,995.85 L361.16,1006.04 A6.67,6.67 0 0 0 370.68,996.7 L360.68,986.51 A6.67,6.67 0 0 0 351.16,995.85 Z" stroke="#000" stroke-width="1.62" fill="none" />
<path d="M360.68,1143.49 L370.68,1133.3 A6.67,6.67 0 0 0 361.16,1123.96 L351.16,1134.15 A6.67,6.67 0 0 0 360.68,1143.49 Z" stroke="#000" stroke-width="1.62" fill="none" />
<path d="M452.12,986.51 L442.12,996.7 A6.67,6.67 0 0 0 451.64,1006.04 L461.64,995.85 A6.67,6.67 0 0 0 452.12,986.51 Z" stroke="#000" stroke-width="1.62" fill="none" />
<path d="M461.64,1134.15 L451.64,1123.96 A6.67,6.67 0 0 0 442.12,1133.3 L452.12,1143.49 A6.67,6.67 0 0 0 461.64,1134.15 Z" stroke="#000" stroke-width="1.62" fill="none" />
<circle cx="406.4" cy="1065" r="17.72" stroke="#000" stroke-width="1.62" fill="none"/>
<line x1="339.72" y1="948.3" x2="473.07" y2="948.3" stroke="#000" stroke-width="1.35" />
<line x1="339.72" y1="948.3" x2="339.72" y2="985.94" stroke="#000" stroke-width="1.35" />
<line x1="473.07" y1="948.3" x2="473.07" y2="985.94" stroke="#000" stroke-width="1.35" />
<line x1="355.92" y1="961.7" x2="456.88" y2="961.7" stroke="#000" stroke-width="1.35" />
<line x1="355.92" y1="961.7" x2="355.92" y2="991.18" stroke="#000" stroke-width="1.35" />
<line x1="456.88" y1="961.7" x2="456.88" y2="991.18" stroke="#000" stroke-width="1.35" />
<line x1="365.92" y1="974" x2="446.88" y2="974" stroke="#000" stroke-width="1.35" />
<line x1="365.92" y1="974" x2="365.92" y2="1001.37" stroke="#000" stroke-width="1.35" />
<line x1="446.88" y1="974" x2="446.88" y2="1001.37" stroke="#000" stroke-width="1.35" />
<text font-family="Liberation Serif, serif" font-size="14.5" text-anchor="middle" fill="#000" transform="translate(406.4 947.5) scale(1.08 1)" >140</text>
<text font-family="Liberation Serif, serif" font-size="14.5" text-anchor="middle" fill="#000" transform="translate(406.4 960.9) scale(1.08 1)" >106</text>
<text font-family="Liberation Serif, serif" font-size="14.5" text-anchor="middle" fill="#000" transform="translate(406.4 973.2) scale(1.08 1)" >85</text>
<line x1="300.7" y1="977.37" x2="300.7" y2="1152.63" stroke="#000" stroke-width="1.35" />
<line x1="300.7" y1="977.37" x2="348.3" y2="977.37" stroke="#000" stroke-width="1.35" />
<line x1="300.7" y1="1152.63" x2="348.3" y2="1152.63" stroke="#000" stroke-width="1.35" />
<line x1="318.3" y1="991.18" x2="318.3" y2="1138.82" stroke="#000" stroke-width="1.35" />
<line x1="318.3" y1="991.18" x2="355.92" y2="991.18" stroke="#000" stroke-width="1.35" />
<line x1="318.3" y1="1138.82" x2="355.92" y2="1138.82" stroke="#000" stroke-width="1.35" />
<line x1="333.3" y1="1001.37" x2="333.3" y2="1128.63" stroke="#000" stroke-width="1.35" />
<line x1="333.3" y1="1001.37" x2="365.92" y2="1001.37" stroke="#000" stroke-width="1.35" />
<line x1="333.3" y1="1128.63" x2="365.92" y2="1128.63" stroke="#000" stroke-width="1.35" />
<text font-family="Liberation Serif, serif" font-size="14.5" text-anchor="middle" fill="#000" transform="translate(299.2 1065) rotate(-90) scale(1.08 1)" >184</text>
<text font-family="Liberation Serif, serif" font-size="14.5" text-anchor="middle" fill="#000" transform="translate(316.8 1065) rotate(-90) scale(1.08 1)" >155</text>
<text font-family="Liberation Serif, serif" font-size="14.5" text-anchor="middle" fill="#000" transform="translate(331.8 1065) rotate(-90) scale(1.08 1)" >133. 6</text>
<line x1="281.7" y1="1183.3" x2="321.7" y2="1183.3" stroke="#000" stroke-width="1.35" />
<line x1="321.7" y1="1183.3" x2="351.7" y2="1140" stroke="#000" stroke-width="1.35" />
<text font-family="Liberation Serif, serif" font-size="14.5" text-anchor="start" fill="#000" transform="translate(281.7 1182.3) scale(1.03 1)" >4xR10</text>
<line x1="451.64" y1="1123.96" x2="443.57" y2="1115.73" stroke="#000" stroke-width="1.35" />
<line x1="442.12" y1="1133.3" x2="434.05" y2="1125.07" stroke="#000" stroke-width="1.35" />
<line x1="434.05" y1="1125.07" x2="443.57" y2="1115.73" stroke="#000" stroke-width="1.35" />
<line x1="443.57" y1="1115.73" x2="445.7" y2="1114" stroke="#000" stroke-width="1.35" />
<line x1="445.7" y1="1114" x2="461" y2="1114" stroke="#000" stroke-width="1.35" />
<text font-family="Liberation Serif, serif" font-size="14.5" text-anchor="middle" fill="#000" transform="translate(453.85 1113) scale(1.08 1)" >14</text>
<line x1="458.15" y1="1146.91" x2="443.06" y2="1161.72" stroke="#000" stroke-width="1.35" />
<line x1="438.81" y1="1127.2" x2="423.72" y2="1142.01" stroke="#000" stroke-width="1.35" />
<line x1="443.06" y1="1161.72" x2="423.72" y2="1142.01" stroke="#000" stroke-width="1.35" />
<text font-family="Liberation Serif, serif" font-size="14.5" text-anchor="middle" fill="#000" transform="translate(434.41 1150.87) rotate(45) scale(1.08 1)" >29</text>
<rect x="473.5" y="992.92" width="18.82" height="5.65" fill="#000"/>
<rect x="473.5" y="998.58" width="27.26" height="17.39" rx="2.53" stroke="#000" stroke-width="1.49" fill="none"/>
<line x1="493.75" y1="1015.46" x2="493.75" y2="998.58" stroke="#000" stroke-width="1.35" />
<rect x="475.19" y="999.42" width="16.88" height="15.7" rx="3.38" stroke="#000" stroke-width="1.08" fill="none"/>
<line x1="489.53" y1="1017.06" x2="638.55" y2="1017.06" stroke="#000" stroke-width="1.35" />
<line x1="489.53" y1="1021.37" x2="638.55" y2="1021.37" stroke="#000" stroke-width="1.35" />
<line x1="489.53" y1="1017.06" x2="489.53" y2="1021.37" stroke="#000" stroke-width="1.35" />
<line x1="472.91" y1="1016.47" x2="508.86" y2="1016.47" stroke="#000" stroke-width="1.76" />
<line x1="472.91" y1="1025.42" x2="508.86" y2="1025.42" stroke="#000" stroke-width="1.35" />
<line x1="508.86" y1="1016.47" x2="508.86" y2="1025.42" stroke="#000" stroke-width="1.35" />
<line x1="505.74" y1="1021.37" x2="505.74" y2="1025.42" stroke="#000" stroke-width="1.35" />
<line x1="472.65" y1="1028.62" x2="610.7" y2="1028.62" stroke="#000" stroke-width="1.35" />
<line x1="472.65" y1="1031.32" x2="610.7" y2="1031.32" stroke="#000" stroke-width="1.35" />
<line x1="493.33" y1="1025.42" x2="493.33" y2="1028.62" stroke="#000" stroke-width="1.35" />
<rect x="627.15" y="1026.68" width="34.6" height="4.22" rx="0" stroke="#000" stroke-width="1.35" fill="none"/>
<rect x="634.16" y="1022.46" width="27.6" height="4.22" rx="0" stroke="#000" stroke-width="1.35" fill="none"/>
<rect x="635.59" y="1016.81" width="23.89" height="5.65" rx="0" stroke="#000" stroke-width="1.35" fill="none"/>
<rect x="639.81" y="1011.24" width="15.45" height="5.57" rx="0" stroke="#000" stroke-width="1.35" fill="none"/>
<line x1="644.46" y1="1011.24" x2="644.46" y2="1016.81" stroke="#000" stroke-width="1.08" />
<line x1="650.79" y1="1011.24" x2="650.79" y2="1016.81" stroke="#000" stroke-width="1.08" />
<path d="M609.85,1027.53 Q591.28,1043.56 609.85,1059.6" stroke="#000" stroke-width="1.49" fill="none" />
<path d="M609.01,1031.49 Q597.7,1043.56 609.01,1055.72" stroke="#000" stroke-width="1.22" fill="none" />
<line x1="616.6" y1="1035.97" x2="694.65" y2="1035.97" stroke="#000" stroke-width="1.22" />
<line x1="630.78" y1="1031.83" x2="661.76" y2="1031.83" stroke="#000" stroke-width="2.16" />
<rect x="473.5" y="1131.42" width="18.82" height="5.65" fill="#000"/>
<rect x="473.5" y="1114.54" width="27.26" height="17.39" rx="2.53" stroke="#000" stroke-width="1.49" fill="none"/>
<line x1="493.75" y1="1114.54" x2="493.75" y2="1131.42" stroke="#000" stroke-width="1.35" />
<rect x="475.19" y="1115.39" width="16.88" height="15.7" rx="3.38" stroke="#000" stroke-width="1.08" fill="none"/>
<line x1="489.53" y1="1112.94" x2="638.55" y2="1112.94" stroke="#000" stroke-width="1.35" />
<line x1="489.53" y1="1108.63" x2="638.55" y2="1108.63" stroke="#000" stroke-width="1.35" />
<line x1="489.53" y1="1112.94" x2="489.53" y2="1108.63" stroke="#000" stroke-width="1.35" />
<line x1="472.91" y1="1113.53" x2="508.86" y2="1113.53" stroke="#000" stroke-width="1.76" />
<line x1="472.91" y1="1104.58" x2="508.86" y2="1104.58" stroke="#000" stroke-width="1.35" />
<line x1="508.86" y1="1113.53" x2="508.86" y2="1104.58" stroke="#000" stroke-width="1.35" />
<line x1="505.74" y1="1108.63" x2="505.74" y2="1104.58" stroke="#000" stroke-width="1.35" />
<line x1="472.65" y1="1101.38" x2="610.7" y2="1101.38" stroke="#000" stroke-width="1.35" />
<line x1="472.65" y1="1098.68" x2="610.7" y2="1098.68" stroke="#000" stroke-width="1.35" />
<line x1="493.33" y1="1104.58" x2="493.33" y2="1101.38" stroke="#000" stroke-width="1.35" />
<rect x="627.15" y="1099.1" width="34.6" height="4.22" rx="0" stroke="#000" stroke-width="1.35" fill="none"/>
<rect x="634.16" y="1103.32" width="27.6" height="4.22" rx="0" stroke="#000" stroke-width="1.35" fill="none"/>
<rect x="635.59" y="1107.54" width="23.89" height="5.65" rx="0" stroke="#000" stroke-width="1.35" fill="none"/>
<rect x="639.81" y="1113.19" width="15.45" height="5.57" rx="0" stroke="#000" stroke-width="1.35" fill="none"/>
<line x1="644.46" y1="1118.76" x2="644.46" y2="1113.19" stroke="#000" stroke-width="1.08" />
<line x1="650.79" y1="1118.76" x2="650.79" y2="1113.19" stroke="#000" stroke-width="1.08" />
<rect x="642.6" y="1118.76" width="9.87" height="3.71" fill="#000"/>
<path d="M609.85,1102.47 Q591.28,1086.44 609.85,1070.4" stroke="#000" stroke-width="1.49" fill="none" />
<path d="M609.01,1098.51 Q597.7,1086.44 609.01,1074.28" stroke="#000" stroke-width="1.22" fill="none" />
<line x1="616.6" y1="1094.03" x2="694.65" y2="1094.03" stroke="#000" stroke-width="1.22" />
<line x1="630.78" y1="1098.17" x2="661.76" y2="1098.17" stroke="#000" stroke-width="2.16" />
<path d="M633.48,1022.8 H614.07 Q610.27,1022.8 610.27,1026.6 V1103.4 Q610.27,1107.2 614.07,1107.2 H633.48" stroke="#000" stroke-width="1.49" fill="none" />
<path d="M628.42,1026.68 H615.76 Q612.55,1026.68 612.55,1030.06 V1099.94 Q612.55,1103.32 615.76,1103.32 H628.42" stroke="#000" stroke-width="1.22" fill="none" />
<path d="M694.65,1032.51 H622.09 Q614.49,1032.51 614.49,1040.1 V1089.9 Q614.49,1097.49 622.09,1097.49 H694.65 Z" stroke="#000" stroke-width="1.62" fill="none" />
<line x1="693.39" y1="1032.51" x2="693.39" y2="1097.49" stroke="#000" stroke-width="1.08" />
<path d="M630.11,1028.71 Q623.36,1028.71 621.67,1032.51" stroke="#000" stroke-width="1.22" fill="none" />
<path d="M630.11,1101.29 Q623.36,1101.29 621.67,1097.49" stroke="#000" stroke-width="1.22" fill="none" />
<line x1="681.5" y1="936" x2="731" y2="936" stroke="#000" stroke-width="1.35" />
<line x1="681.5" y1="936" x2="406.4" y2="1065" stroke="#000" stroke-width="1.35" />
<text font-family="Liberation Serif, serif" font-size="14.5" text-anchor="start" fill="#000" transform="translate(681.5 935) scale(1.03 1)" >R303. 5</text>
<path d="M659.78,926 A289,289 0 0 1 654.63,1213" stroke="#000" stroke-width="1.49" fill="none" stroke-dasharray="24 5 13 5"/>
<rect x="84.33" y="1236.6" width="133.35" height="11.14" rx="0" stroke="#000" stroke-width="1.49" fill="none"/>
<line x1="93.95" y1="1236.6" x2="93.95" y2="1247.74" stroke="#000" stroke-width="1.35" />
<line x1="208.05" y1="1236.6" x2="208.05" y2="1247.74" stroke="#000" stroke-width="1.35" />
<line x1="96.71" y1="1247.74" x2="96.71" y2="1251.27" stroke="#000" stroke-width="1.35" />
<line x1="205.29" y1="1247.74" x2="205.29" y2="1251.27" stroke="#000" stroke-width="1.35" />
<rect x="86.9" y="1251.27" width="128.21" height="20.38" rx="0" stroke="#000" stroke-width="1.49" fill="none"/>
<line x1="86.9" y1="1271.65" x2="215.1" y2="1271.65" stroke="#000" stroke-width="2.43" />
<mask id="m1236" maskUnits="userSpaceOnUse" x="0" y="0" width="750" height="1640"><rect width="750" height="1640" fill="#fff"/><path d="M113.85,1271.65 L113.85,1282.13 L201.33,1458.51 A27.81,27.81 0 0 0 251.93,1435.47 L187.67,1280.89 L187.67,1271.65 Z" fill="#000"/><path d="M230.7,1403.5 L382.4,1342.4 L399.2,1374.4 L243.9,1438.7 Z" fill="#000"/></mask>
<g mask="url(#m1236)">
<circle cx="226.25" cy="1446.15" r="142.7" stroke="#000" stroke-width="1.76" fill="none"/>
<circle cx="226.25" cy="1446.15" r="140.3" stroke="#000" stroke-width="1.76" fill="none"/>
<circle cx="226.25" cy="1446.15" r="137.3" stroke="#000" stroke-width="1.08" fill="none"/>
<circle cx="226.25" cy="1446.15" r="105.8" stroke="#000" stroke-width="1.35" fill="none"/>
<circle cx="226.25" cy="1446.15" r="48" stroke="#000" stroke-width="1.35" fill="none"/>
</g>
<path d="M113.85,1271.65 L113.85,1282.13 L201.33,1458.51 A27.81,27.81 0 0 0 251.93,1435.47 L187.67,1280.89 L187.67,1271.65" stroke="#000" stroke-width="1.62" fill="none" />
<path d="M244.82,1449.42 L232.7,1463.87 L214.12,1460.6 L207.67,1442.88 L219.8,1428.43 L238.37,1431.7 Z" stroke="#000" stroke-width="1.49" fill="none" />
<path d="M243.41,1449.18 L232.21,1462.53 L215.04,1459.5 L209.08,1443.12 L220.29,1429.77 L237.45,1432.8 Z" stroke="#000" stroke-width="0.94" fill="none" />
<circle cx="226.25" cy="1446.15" r="11.43" stroke="#000" stroke-width="2.16" fill="none"/>
<circle cx="226.25" cy="1446.15" r="8.76" stroke="#000" stroke-width="1.35" fill="none"/>
<line x1="31" y1="1236.6" x2="84.33" y2="1236.6" stroke="#000" stroke-width="1.35" />
<line x1="31" y1="1236.6" x2="31" y2="1589.02" stroke="#000" stroke-width="1.35" />
<line x1="31" y1="1589.02" x2="238.25" y2="1589.02" stroke="#000" stroke-width="1.35" />
<line x1="65" y1="1236.6" x2="65" y2="1446.15" stroke="#000" stroke-width="1.35" />
<line x1="65" y1="1446.15" x2="226.25" y2="1446.15" stroke="#000" stroke-width="1.35" />
<line x1="151" y1="1236.6" x2="151" y2="1600" stroke="#000" stroke-width="1.35" />
<line x1="226.25" y1="1446.15" x2="226.25" y2="1600" stroke="#000" stroke-width="1.35" />
<line x1="151" y1="1600" x2="226.25" y2="1600" stroke="#000" stroke-width="1.35" />
<text font-family="Liberation Serif, serif" font-size="14.5" text-anchor="middle" fill="#000" transform="translate(188.62 1601) scale(1.08 1)" >79</text>
<text font-family="Liberation Serif, serif" font-size="14.5" text-anchor="middle" fill="#000" transform="translate(29.5 1412.5) rotate(-90) scale(1.08 1)" >370</text>
<text font-family="Liberation Serif, serif" font-size="14.5" text-anchor="middle" fill="#000" transform="translate(63.5 1341.5) rotate(-90) scale(1.08 1)" >220</text>
<line x1="286.5" y1="1301" x2="319" y2="1301" stroke="#000" stroke-width="1.35" />
<line x1="286.5" y1="1301" x2="170" y2="1585" stroke="#000" stroke-width="1.35" />
<text font-family="Liberation Serif, serif" font-size="14.5" text-anchor="start" fill="#000" transform="translate(286.5 1300) scale(1.03 1)" >&#216;300</text>
<line x1="238.7" y1="1399.5" x2="382.4" y2="1342.4" stroke="#000" stroke-width="1.62" />
<line x1="251.9" y1="1434.7" x2="399.2" y2="1374.4" stroke="#000" stroke-width="1.62" />
<path d="M401.8,1357.6 L398.1,1364.01 L390.7,1364.01 L387,1357.6 L390.7,1351.19 L398.1,1351.19 Z" stroke="#000" stroke-width="1.49" fill="none" />
<circle cx="394.4" cy="1357.6" r="3.4" stroke="#000" stroke-width="1.49" fill="none"/>
<path d="M382.4,1342.4 L397.4,1345.1 Q404.9,1348.6 406,1356.6 L402.4,1368.6 L399.2,1374.4" stroke="#000" stroke-width="1.62" fill="none" />
<path d="M385.4,1341.2 L398.4,1343.6 Q406.6,1347.6 407.6,1356.6 L403.9,1369.4 L400.7,1374.8 L399.2,1374.4" stroke="#000" stroke-width="1.35" fill="none" />
<path d="M359.2,1342 L437.9,1339 L437.9,1342.3 L360,1346 Z" stroke="#000" stroke-width="1.49" fill="none" />
<path d="M359.2,1342 L365.4,1344.4 L360,1346" stroke="#000" stroke-width="1.22" fill="none" />
<path d="M437.9,1342.3 L437.6,1348 L419.2,1368 Q415.9,1371 403.4,1371.2" stroke="#000" stroke-width="1.49" fill="none" />
<rect x="462.37" y="1236.6" width="175.26" height="11.23" rx="0" stroke="#000" stroke-width="1.49" fill="none"/>
<line x1="471.82" y1="1236.6" x2="471.82" y2="1247.83" stroke="#000" stroke-width="1.89" />
<line x1="628.18" y1="1236.6" x2="628.18" y2="1247.83" stroke="#000" stroke-width="1.49" />
<line x1="453.5" y1="1233.22" x2="453.5" y2="1247.83" stroke="#000" stroke-width="1.35" />
<line x1="453.5" y1="1236.6" x2="462.37" y2="1236.6" stroke="#000" stroke-width="1.35" />
<line x1="453.5" y1="1247.83" x2="462.37" y2="1247.83" stroke="#000" stroke-width="1.35" />
<line x1="453.5" y1="1233.22" x2="467.85" y2="1233.22" stroke="#000" stroke-width="1.35" />
<text font-family="Liberation Serif, serif" font-size="14.5" text-anchor="middle" fill="#000" transform="translate(460.67 1232.22) scale(1.08 1)" >12</text>
<line x1="637.63" y1="1236.6" x2="652.5" y2="1236.6" stroke="#000" stroke-width="1.35" />
<line x1="652.5" y1="1236.6" x2="652.5" y2="1271.46" stroke="#000" stroke-width="1.35" />
<line x1="613.89" y1="1271.46" x2="652.5" y2="1271.46" stroke="#000" stroke-width="1.35" />
<text font-family="Liberation Serif, serif" font-size="14.5" text-anchor="middle" fill="#000" transform="translate(651 1256.01) rotate(-90) scale(1.08 1)" >37</text>
<line x1="495.98" y1="1247.83" x2="495.98" y2="1251.2" stroke="#000" stroke-width="1.35" />
<line x1="604.27" y1="1247.83" x2="604.27" y2="1251.2" stroke="#000" stroke-width="1.35" />
<rect x="486.7" y="1251.2" width="127.19" height="20.26" rx="0" stroke="#000" stroke-width="1.49" fill="none"/>
<line x1="486.7" y1="1271.46" x2="613.89" y2="1271.46" stroke="#000" stroke-width="2.43" />
<rect x="521.3" y="1271.46" width="57.65" height="2.79" rx="0" stroke="#000" stroke-width="1.35" fill="none"/>
<rect x="526.11" y="1274.83" width="49.21" height="12.41" rx="2.11" stroke="#000" stroke-width="1.49" fill="none"/>
<line x1="535.91" y1="1274.83" x2="535.91" y2="1287.24" stroke="#000" stroke-width="1.35" />
<line x1="560.72" y1="1274.83" x2="560.72" y2="1287.24" stroke="#000" stroke-width="1.35" />
<rect x="535.91" y="1287.24" width="29.03" height="4.73" fill="#000"/>
<line x1="500.79" y1="1271.46" x2="500.79" y2="1472.5" stroke="#000" stroke-width="1.49" />
<line x1="510.92" y1="1271.46" x2="510.92" y2="1433.84" stroke="#000" stroke-width="1.49" />
<line x1="500.79" y1="1472.5" x2="510.92" y2="1472.5" stroke="#000" stroke-width="1.49" />
<line x1="513.12" y1="1310.03" x2="513.12" y2="1445.49" stroke="#000" stroke-width="1.22" />
<line x1="512.19" y1="1321" x2="512.19" y2="1336.19" stroke="#000" stroke-width="1.22" />
<path d="M513.12,1336.19 Q516.24,1350.54 513.12,1364.89" stroke="#000" stroke-width="1.22" fill="none" />
<rect x="496.15" y="1351" width="4.64" height="12.66" rx="0" stroke="#000" stroke-width="1.35" fill="none"/>
<rect x="482.48" y="1428.78" width="18.31" height="32.49" rx="2.11" stroke="#000" stroke-width="1.49" fill="none"/>
<line x1="500.79" y1="1442.03" x2="482.48" y2="1442.03" stroke="#000" stroke-width="1.35" />
<rect x="477.67" y="1434.43" width="4.81" height="23.97" fill="#000"/>
<rect x="482.48" y="1461.27" width="31.65" height="2.79" rx="0" stroke="#000" stroke-width="1.35" fill="none"/>
<line x1="510.95" y1="1433.84" x2="510.95" y2="1620" stroke="#000" stroke-width="1.49" />
<line x1="514.28" y1="1581.5" x2="514.28" y2="1602.5" stroke="#000" stroke-width="1.35" />
<line x1="599.21" y1="1271.46" x2="599.21" y2="1472.5" stroke="#000" stroke-width="1.49" />
<line x1="589.08" y1="1271.46" x2="589.08" y2="1433.84" stroke="#000" stroke-width="1.49" />
<line x1="599.21" y1="1472.5" x2="589.08" y2="1472.5" stroke="#000" stroke-width="1.49" />
<line x1="586.88" y1="1310.03" x2="586.88" y2="1445.49" stroke="#000" stroke-width="1.22" />
<line x1="587.81" y1="1321" x2="587.81" y2="1336.19" stroke="#000" stroke-width="1.22" />
<path d="M586.88,1336.19 Q583.76,1350.54 586.88,1364.89" stroke="#000" stroke-width="1.22" fill="none" />
<rect x="599.21" y="1351" width="4.64" height="12.66" rx="0" stroke="#000" stroke-width="1.35" fill="none"/>
<rect x="603.85" y="1352.69" width="3.63" height="8.44" fill="#000"/>
<rect x="599.21" y="1428.78" width="18.31" height="32.49" rx="2.11" stroke="#000" stroke-width="1.49" fill="none"/>
<line x1="599.21" y1="1442.03" x2="617.52" y2="1442.03" stroke="#000" stroke-width="1.35" />
<rect x="617.52" y="1434.43" width="4.81" height="23.97" fill="#000"/>
<rect x="585.87" y="1461.27" width="31.65" height="2.79" rx="0" stroke="#000" stroke-width="1.35" fill="none"/>
<line x1="589.05" y1="1433.84" x2="589.05" y2="1620" stroke="#000" stroke-width="1.49" />
<line x1="585.72" y1="1581.5" x2="585.72" y2="1602.5" stroke="#000" stroke-width="1.35" />
<path d="M514.28,1582 V1309.5 Q514.28,1304 519.78,1303.7 Q550,1302 580.22,1303.7 Q585.72,1304 585.72,1309.5 V1582 Q585.72,1587.5 580.22,1587.8 Q550,1589.5 519.78,1587.8 Q514.28,1587.5 514.28,1582 Z" stroke="#000" stroke-width="1.62" fill="none" />
<line x1="516.88" y1="1309.5" x2="516.88" y2="1582" stroke="#000" stroke-width="1.08" />
<line x1="583.12" y1="1309.5" x2="583.12" y2="1582" stroke="#000" stroke-width="1.08" />
<line x1="514.28" y1="1602.5" x2="585.72" y2="1602.5" stroke="#000" stroke-width="1.35" />
<line x1="510.95" y1="1620" x2="589.05" y2="1620" stroke="#000" stroke-width="1.35" />
<text font-family="Liberation Serif, serif" font-size="14.5" text-anchor="middle" fill="#000" transform="translate(550 1601.7) scale(1.08 1)" >75</text>
<text font-family="Liberation Serif, serif" font-size="14.5" text-anchor="middle" fill="#000" transform="translate(550 1619.2) scale(1.08 1)" >82</text>
<line x1="589.08" y1="1299.3" x2="616.51" y2="1299.3" stroke="#000" stroke-width="1.35" />
<line x1="589.08" y1="1283.02" x2="599.21" y2="1283.02" stroke="#000" stroke-width="1.22" />
<text font-family="Liberation Serif, serif" font-size="14.5" text-anchor="middle" fill="#000" transform="translate(608.91 1298.3) scale(1.08 1)" >10</text>
</g>
</svg></body></html>
